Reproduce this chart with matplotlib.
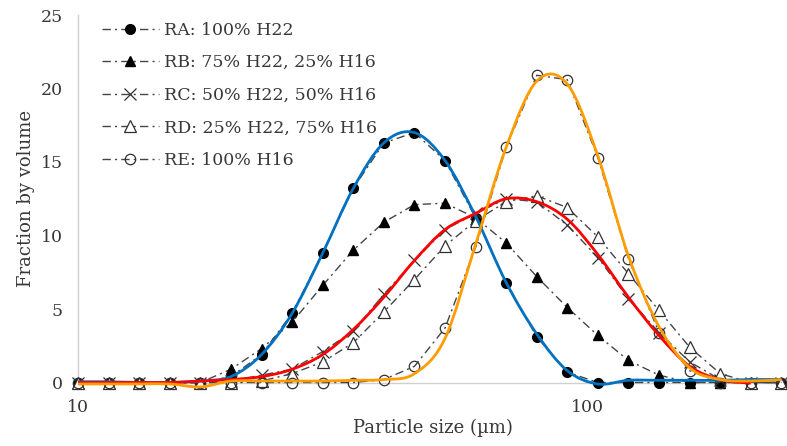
import matplotlib
matplotlib.use("Agg")
import matplotlib.pyplot as plt
import numpy as np
from matplotlib.path import Path
from matplotlib.patches import PathPatch

# particle size bins (um)
sizes = [10.0, 11.48, 13.18, 15.14, 17.38, 19.95, 22.91, 26.30, 30.20, 34.67,
         39.81, 45.71, 52.48, 60.26, 69.18, 79.43, 91.20, 104.7, 120.2, 138.0,
         158.5, 182.0, 208.9, 239.9]

# measured fractions by volume
ra = [0, 0, 0, 0, 0, 0.4, 1.9, 4.7, 8.8, 13.2, 16.3, 17.0, 15.1, 11.2, 6.8, 3.1,
      0.7, 0, 0, 0, 0, 0, 0, 0]
rb = [0, 0, 0, 0, 0, 0.9, 2.3, 4.1, 6.6, 9.0, 10.9, 12.1, 12.2, 11.2, 9.5, 7.2,
      5.1, 3.2, 1.5, 0.5, 0, 0, 0, 0]
rc = [0, 0, 0, 0, 0, 0.1, 0.5, 0.9, 2.1, 3.5, 6.0, 8.3, 10.4, 11.5, 12.5, 12.3,
      10.7, 8.5, 5.7, 3.4, 1.4, 0.2, 0, 0]
rd = [0, 0, 0, 0, 0, 0, 0.1, 0.6, 1.4, 2.7, 4.8, 7.0, 9.3, 11.0, 12.3, 12.7,
      11.9, 9.9, 7.4, 4.9, 2.4, 0.6, 0, 0]
re = [0, 0, 0, 0, 0, 0, 0, 0, 0, 0, 0.2, 1.1, 3.7, 9.2, 16.0, 20.9, 20.6, 15.3,
      8.4, 3.4, 0.8, 0, 0, 0]

# fitted curves (coloured)
fit_blue = [0.05, 0.05, 0.0, 0.0, 0.1, 0.4, 1.9, 4.7, 8.8, 13.2, 16.3, 17.0,
            15.1, 11.3, 6.8, 3.3, 0.8, -0.1, 0.15, 0.15, 0.15, 0.15, 0.2, 0.2]
fit_red = [0, 0, 0, 0, 0.1, 0.2, 0.4, 0.9, 1.9, 3.6, 5.8, 8.3, 10.4, 11.5, 12.5,
           12.3, 11.1, 8.7, 5.8, 3.2, 1.1, 0.2, -0.05]
fit_orange = [-0.1, -0.1, -0.1, -0.1, -0.3, 0.1, 0.1, 0.1, 0.1, 0.15, 0.2, 0.6,
              3.0, 9.4, 16.0, 20.5, 20.3, 15.4, 8.6, 3.8, 1.0, 0.2, 0.1, 0.2]

labels = ["RA: 100% H22", "RB: 75% H22, 25% H16", "RC: 50% H22, 50% H16",
          "RD: 25% H22, 75% H16", "RE: 100% H16"]

plt.rcParams["font.family"] = ["DejaVu Serif"]
txt = "#383838"


def smooth_path(xs, ys):
    # Excel-style smoothed line: cubic Bezier segments in (log x, y)
    lx = np.log10(xs)
    y = np.asarray(ys, dtype=float)
    n = len(lx)
    verts = [(xs[0], y[0])]
    codes = [Path.MOVETO]
    for i in range(n - 1):
        i0 = max(i - 1, 0)
        i3 = min(i + 2, n - 1)
        c1x = lx[i] + (lx[i + 1] - lx[i0]) / 6
        c1y = y[i] + (y[i + 1] - y[i0]) / 6
        c2x = lx[i + 1] - (lx[i3] - lx[i]) / 6
        c2y = y[i + 1] - (y[i3] - y[i]) / 6
        verts += [(10 ** c1x, c1y), (10 ** c2x, c2y), (xs[i + 1], y[i + 1])]
        codes += [Path.CURVE4] * 3
    return Path(verts, codes)


fig = plt.figure(figsize=(7.87, 4.46), dpi=100)
ax = fig.add_axes([78 / 787, 1 - 382.5 / 446, 1 - 78 / 787, 367.5 / 446])

dash = (0, (6, 3, 1.5, 3))
style = dict(color="#454545", lw=1.0, ls=dash, clip_on=False, zorder=3)
ax.plot(sizes, ra, marker="o", ms=7, mfc="black", mec="black", label=labels[0], **style)
ax.plot(sizes, rb, marker="^", ms=7.5, mfc="black", mec="black", label=labels[1], **style)
ax.plot(sizes, rc, marker="x", ms=8, mec="#303030", mew=0.9, label=labels[2], **style)
ax.plot(sizes, rd, marker="^", ms=8, mfc="white", mec="#303030", mew=0.9, label=labels[3], **style)
ax.plot(sizes, re, marker="o", ms=7.5, mfc="none", mec="#303030", mew=0.9, label=labels[4], **style)

for vals, col in [(fit_blue, "#0070C0"), (fit_red, "#FF0000"), (fit_orange, "#FF9C00")]:
    patch = PathPatch(smooth_path(sizes[:len(vals)], vals), fc="none", ec=col,
                      lw=2.0, zorder=5, clip_on=False, transform=ax.transData)
    ax.add_patch(patch)

ax.set_xscale("log")
ax.set_xlim(10, 246)
ax.set_ylim(0, 25)
ax.set_xticks([10, 100])
ax.set_xticklabels(["10", "100"])
ax.xaxis.set_minor_locator(matplotlib.ticker.NullLocator())
ax.set_yticks([0, 5, 10, 15, 20, 25])
ax.tick_params(axis="both", length=0, labelsize=12.5, colors=txt)
ax.tick_params(axis="x", pad=12)
ax.tick_params(axis="y", pad=11)

for s in ["top", "right"]:
    ax.spines[s].set_visible(False)
for s in ["left", "bottom"]:
    ax.spines[s].set_color("#d0d0d0")
    ax.spines[s].set_linewidth(1.0)

ax.set_xlabel("Particle size (\u00b5m)", fontsize=13, color=txt, labelpad=2)
ax.set_ylabel("Fraction by volume", fontsize=13, color=txt, labelpad=4)

ax.legend(loc="upper left", bbox_to_anchor=(86 / 787, 1 - 6 / 446),
          bbox_transform=fig.transFigure, frameon=False, fontsize=12.5,
          handlelength=3.3, handletextpad=0.3, labelspacing=0.9, numpoints=1,
          labelcolor=txt)

fig.savefig("out.png", dpi=100)
